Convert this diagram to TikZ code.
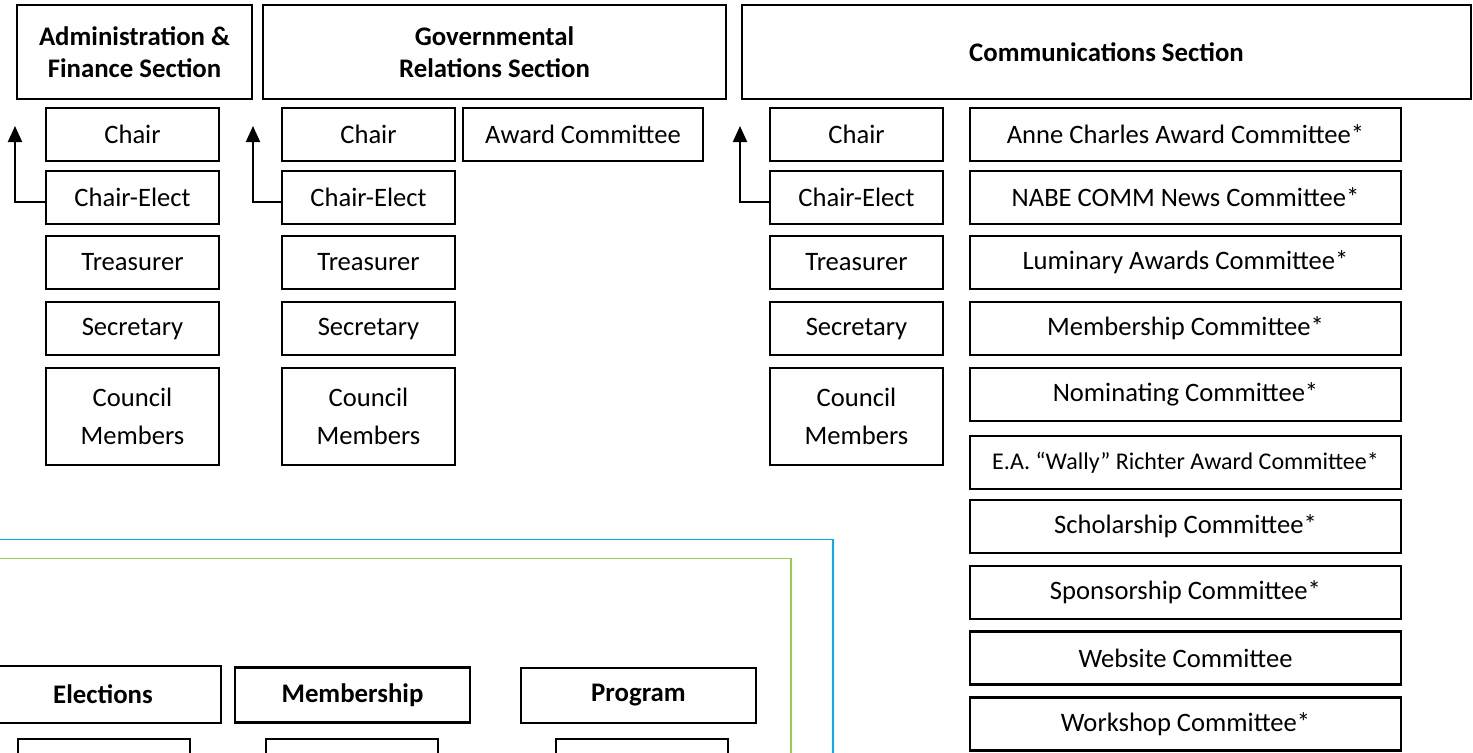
\documentclass[tikz,border=0pt]{standalone}
\usepackage{fontspec}
\setmainfont{Carlito}
\usetikzlibrary{arrows.meta}
\definecolor{blueframe}{HTML}{00B0F0}
\definecolor{greenframe}{HTML}{92D050}
\tikzset{
  box/.style={draw, line width=1pt, rectangle, inner sep=0pt, align=center, font=\fontsize{13.3}{19}\selectfont},
  secbox/.style={draw, line width=1.4pt, rectangle, inner sep=0pt, align=center, font=\fontsize{13.4}{16}\selectfont\bfseries},
  officer/.style={box, minimum width=86.5pt, minimum height=26.5pt},
  council/.style={box, minimum width=86.5pt, minimum height=48.5pt},
  cmte/.style={box, line width=1.2pt, minimum width=215.5pt, minimum height=26.5pt},
  grpbox/.style={secbox, minimum height=27.5pt},
  subbox/.style={draw, line width=0.85pt, rectangle, inner sep=0pt, minimum width=86pt, minimum height=26.5pt},
  arr/.style={line width=1pt, -{Triangle[width=7pt,length=8pt]}},
}
\begin{document}
\begin{tikzpicture}[x=0.5pt,y=-0.5pt]
\useasboundingbox (0,0) rectangle (1473,752);
\clip (0,0) rectangle (1473,752);
\fill[white] (0,0) rectangle (1473,752);

% section heads
\node[secbox, minimum width=117.5pt, minimum height=47pt] (adm) at (134.5,52) {Administration \&\\Finance Section};
\node[secbox, minimum width=231.5pt, minimum height=47pt] (gov) at (494.5,52) {Governmental\\Relations Section};
\node[secbox, minimum width=364.5pt, minimum height=47pt] (com) at (1106.5,52) {Communications Section};

% column A
\node[officer] (achair) at (132.5,134.5) {Chair};
\node[officer] (aelect) at (132.5,197) {Chair-Elect};
\node[officer] (atreas) at (132.5,262.5) {Treasurer};
\node[officer] (asecr) at (132.5,328.5) {Secretary};
\node[council] (acoun) at (132.5,416.5) {Council\\Members};

% column B
\node[officer] (bchair) at (368.5,134.5) {Chair};
\node[officer] (belect) at (368.5,197) {Chair-Elect};
\node[officer] (btreas) at (368.5,262.5) {Treasurer};
\node[officer] (bsecr) at (368.5,328.5) {Secretary};
\node[council] (bcoun) at (368.5,416.5) {Council\\Members};
\node[officer, minimum width=120pt] (baward) at (583,134.5) {Award Committee};

% column C
\node[officer] (cchair) at (856.5,134.5) {Chair};
\node[officer] (celect) at (856.5,197) {Chair-Elect};
\node[officer] (ctreas) at (856.5,262.5) {Treasurer};
\node[officer] (csecr) at (856.5,328.5) {Secretary};
\node[council] (ccoun) at (856.5,416.5) {Council\\Members};

% committees
\node[cmte] (k1) at (1185.5,134.5) {Anne Charles Award Committee*};
\node[cmte] (k2) at (1185.5,197.5) {NABE COMM News Committee*};
\node[cmte] (k3) at (1185.5,262.5) {Luminary Awards Committee*};
\node[cmte] (k4) at (1185.5,328.5) {Membership Committee*};
\node[cmte] (k5) at (1185.5,394.5) {Nominating Committee*};
\node[cmte, font=\fontsize{12}{14}\selectfont] (k6) at (1185.5,462.5) {E.A. “Wally” Richter Award Committee*};
\node[cmte] (k7) at (1185.5,526.5) {Scholarship Committee*};
\node[cmte] (k8) at (1185.5,592.5) {Sponsorship Committee*};
\node[cmte] (k9) at (1185.5,658) {Website Committee};
\node[cmte] (k10) at (1185.5,724) {Workshop Committee*};

% arrows
\coordinate (atip) at (15,126);
\coordinate (btip) at (253,126);
\coordinate (ctip) at (740,126);
\draw[arr] ([yshift=-2.5pt]aelect.west) -| (atip);
\draw[arr] ([yshift=-2.5pt]belect.west) -| (btip);
\draw[arr] ([yshift=-2.5pt]celect.west) -| (ctip);

% lower frames
\draw[blueframe, line width=0.8pt] (-10,539.5) rectangle (833,820);
\draw[greenframe, line width=0.8pt] (-10,558.5) rectangle (791,820);

\node[grpbox, minimum width=118pt, minimum height=28.5pt] (elec) at (103,694.5) {Elections};
\node[grpbox, minimum width=117.5pt] (memb) at (352.5,695) {Membership};
\node[grpbox, minimum width=117.5pt] (prog) at (638.5,695.5) {Program};

\node[subbox, anchor=north] (elecsub) at (104,738) {};
\node[subbox, anchor=north] (membsub) at (352,738) {};
\node[subbox, anchor=north] (progsub) at (642,738) {};
\end{tikzpicture}
\end{document}
